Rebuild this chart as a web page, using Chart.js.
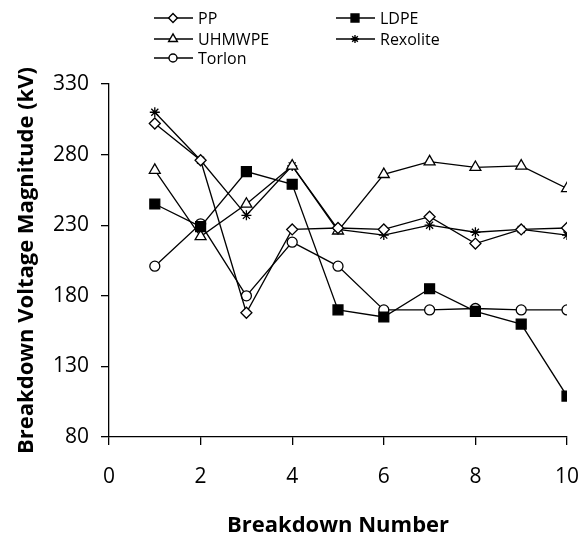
<!DOCTYPE html>
<html>
<head>
<meta charset="utf-8">
<script src="https://cdn.jsdelivr.net/npm/chart.js@4/dist/chart.umd.min.js"></script>
<style>
  html, body { margin: 0; padding: 0; background: #fff; }
  #wrap { width: 582px; height: 535px; position: relative; }
</style>
</head>
<body>
<div id="wrap"><canvas id="chart"></canvas></div>
<script>
  // values
  const breakdownNumbers = [1, 2, 3, 4, 5, 6, 7, 8, 9, 10];
  const ppValues       = [302, 276, 168, 227, 228, 227, 236, 217, 227, 228];
  const ldpeValues     = [245, 229, 268, 259, 170, 165, 185, 169, 160, 109];
  const uhmwpeValues   = [269, 222, 245, 272, 226, 266, 275, 271, 272, 256];
  const rexoliteValues = [310, 276, 237, 272, 227, 223, 230, 225, 227, 223];
  const torlonValues   = [201, 231, 180, 218, 201, 170, 170, 171, 170, 170];
  const yTicks = [80, 130, 180, 230, 280, 330];
  const xTicks = [0, 2, 4, 6, 8, 10];

  const FONT = "'Open Sans', 'Liberation Sans', sans-serif";

  function series(label, values, style, radius, fill){
    return {
      label: label,
      data: values.map((v, i) => ({ x: breakdownNumbers[i], y: v })),
      borderColor: "#000",
      borderWidth: 1.3,
      pointStyle: style,
      pointRadius: radius,
      pointHoverRadius: radius,
      pointBackgroundColor: fill,
      pointBorderColor: "#000",
      pointBorderWidth: 1.3,
      tension: 0,
      fill: false
    };
  }

  const datasets = [
    series("PP", ppValues, "rectRot", 5.5, "#fff"),
    series("LDPE", ldpeValues, "rect", 7, "#000"),
    series("UHMWPE", uhmwpeValues, "triangle", 6.3, "#fff"),
    series("Rexolite", rexoliteValues, "star", 5, "#fff"),
    series("Torlon", torlonValues, "circle", 5, "#fff")
  ];

  // two-column legend like the original, drawn above the plot
  const legendSlots = [
    { x: 154, y: 18 }, { x: 336, y: 18 },
    { x: 154, y: 39 }, { x: 336, y: 39 },
    { x: 154, y: 58 }
  ];
  const twoColLegend = {
    id: "twoColLegend",
    afterDraw(chart){
      const ctx = chart.ctx;
      ctx.save();
      chart.data.datasets.forEach((ds, i) => {
        const s = legendSlots[i];
        ctx.strokeStyle = "#000";
        ctx.lineWidth = 1.4;
        ctx.beginPath();
        ctx.moveTo(s.x, s.y);
        ctx.lineTo(s.x + 39, s.y);
        ctx.stroke();
        ctx.fillStyle = ds.pointBackgroundColor;
        Chart.helpers.drawPoint(ctx, {
          pointStyle: ds.pointStyle,
          radius: ds.pointRadius * 0.8,
          rotation: 0,
          borderWidth: 1.4
        }, s.x + 19, s.y);
        ctx.fillStyle = "#000";
        ctx.font = "16px " + FONT;
        ctx.textBaseline = "middle";
        ctx.textAlign = "left";
        ctx.fillText(ds.label, s.x + 44, s.y + 1);
      });
      ctx.restore();
    }
  };

  new Chart(document.getElementById("chart"), {
    type: "line",
    data: { datasets: datasets },
    plugins: [twoColLegend],
    options: {
      responsive: true,
      maintainAspectRatio: false,
      animation: false,
      layout: { padding: { top: 84, right: 15, bottom: 0, left: 0 } },
      plugins: { legend: { display: false }, tooltip: { enabled: false } },
      scales: {
        x: {
          type: "linear",
          min: 0, max: 10,
          afterBuildTicks: s => { s.ticks = xTicks.map(v => ({ value: v })); },
          afterFit: s => { s.height = 98; s.paddingLeft = 0; s.paddingRight = 0; },
          border: { color: "#000", width: 1.3 },
          grid: { drawOnChartArea: false, tickLength: 8, color: "#000", lineWidth: 1.3 },
          ticks: { color: "#000", padding: 19, maxRotation: 0, font: { family: FONT, size: 21 } },
          title: {
            display: true, text: "Breakdown Number", color: "#000",
            font: { family: FONT, size: 22, weight: "bold" },
            padding: { top: 0, bottom: -4 }
          }
        },
        y: {
          min: 80, max: 330,
          afterBuildTicks: s => { s.ticks = yTicks.map(v => ({ value: v })); },
          afterFit: s => { s.width = 109; s.paddingTop = 0; s.paddingBottom = 0; },
          border: { color: "#000", width: 1.3 },
          grid: { drawOnChartArea: false, tickLength: 8, color: "#000", lineWidth: 1.3 },
          ticks: { color: "#000", padding: 12, font: { family: FONT, size: 21 } },
          title: {
            display: true, text: "Breakdown Voltage Magnitude (kV)", color: "#000",
            font: { family: FONT, size: 22, weight: "bold" },
            padding: { top: 14, bottom: 0 }
          }
        }
      }
    }
  });
</script>
</body>
</html>
